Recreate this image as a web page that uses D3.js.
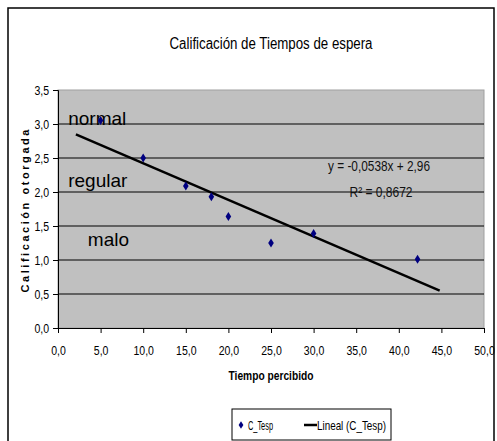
<!DOCTYPE html>
<html><head><meta charset="utf-8">
<script src="https://cdn.jsdelivr.net/npm/d3@7"></script>
<style>
body{margin:0;background:#fff;}
svg text{font-family:"Liberation Sans",Arial,sans-serif;}
</style></head><body>
<svg id="c" width="497" height="441"></svg>
<script>
const title = "Calificación de Tiempos de espera";
const xTitle = "Tiempo percibido";
const yTitle = "Calificación otorgada";
const xValues = [5, 10, 15, 18, 20, 25, 30, 42.2];
const yValues = [3.05, 2.5, 2.09, 1.93, 1.64, 1.25, 1.39, 1.01];
const xTicks = [0, 5, 10, 15, 20, 25, 30, 35, 40, 45, 50];
const yTicks = [0, 0.5, 1, 1.5, 2, 2.5, 3, 3.5];
const trendSlope = -0.0538, trendIntercept = 2.96;
const trendRange = [2.1, 44.8];
const zoneLabels = ["normal", "regular", "malo"];
const zoneLabelY = [2.98, 2.08, 1.2];
const zoneLabelX = [1.2, 1.2, 3.5];
const eqText = "y = -0,0538x + 2,96";
const r2Text = "R² = 0,8672";
const legendLabels = ["C_Tesp", "Lineal (C_Tesp)"];

const svg = d3.select("#c");
const fmt = v => d3.format(".1f")(v).replace(".", ",");
const SQ = 0.78; // horizontal squeeze for narrow-font look
function fitWidth(sel, width, adjust) {
  sel.attr("textLength", width).attr("lengthAdjust", adjust || "spacingAndGlyphs");
}

// outer border
svg.append("rect").attr("x", 8).attr("y", 8).attr("width", 486).attr("height", 440)
  .attr("fill", "#fff").attr("stroke", "#000").attr("stroke-width", 1.5);

const L = 58, R = 484, T = 90, B = 328;
const x = d3.scaleLinear().domain([0, 50]).range([L, R]);
const y = d3.scaleLinear().domain([0, 3.5]).range([B, T]);

svg.append("rect").attr("x", L).attr("y", T).attr("width", R - L).attr("height", B - T)
  .attr("fill", "#c0c0c0").attr("stroke", "#a0a0a0").attr("stroke-width", 1);

// gridlines
svg.append("g").selectAll("line").data(yTicks.filter(d => d > 0 && d < 3.5)).join("line")
  .attr("x1", L).attr("x2", R).attr("y1", d => y(d)).attr("y2", d => y(d))
  .attr("stroke", "#000").attr("stroke-width", 1.2);

// axes
const xa = svg.append("g").attr("transform", `translate(0,${B})`)
  .call(d3.axisBottom(x).tickValues(xTicks).tickFormat(fmt).tickSize(5).tickPadding(12));
const ya = svg.append("g").attr("transform", `translate(${L},0)`)
  .call(d3.axisLeft(y).tickValues(yTicks).tickFormat(fmt).tickSize(5).tickPadding(4));
[xa, ya].forEach(a => {
  a.select(".domain").attr("stroke", "#000");
  a.selectAll(".tick line").attr("stroke", "#000");
  a.selectAll("text").attr("font-size", 13.5).attr("fill", "#000");
});
xa.selectAll(".tick text").attr("transform", `scale(${SQ},1)`);
ya.selectAll(".tick text").attr("x", -9 / SQ).attr("transform", `scale(${SQ},1)`);

// zone labels
svg.append("g").selectAll("text").data(zoneLabels).join("text")
  .attr("x", (d, i) => x(zoneLabelX[i])).attr("y", (d, i) => y(zoneLabelY[i]))
  .attr("font-size", 19).attr("fill", "#000").text(d => d);

// trend line
svg.append("line")
  .attr("x1", x(trendRange[0])).attr("y1", y(trendSlope * trendRange[0] + trendIntercept))
  .attr("x2", x(trendRange[1])).attr("y2", y(trendSlope * trendRange[1] + trendIntercept))
  .attr("stroke", "#000").attr("stroke-width", 2.5);

// points
const diamond = "M0,-4.5L2.8,0L0,4.5L-2.8,0Z";
svg.append("g").selectAll("path").data(xValues).join("path")
  .attr("d", diamond)
  .attr("transform", (d, i) => `translate(${x(d)},${y(yValues[i])})`)
  .attr("fill", "#000080");

// equation
const eq = svg.append("g").attr("fill", "#111").attr("font-size", 15).attr("text-anchor", "middle");
eq.append("text").attr("x", 379).attr("y", 171).text(eqText).call(fitWidth, 102);
eq.append("text").attr("x", 381).attr("y", 197).text(r2Text).call(fitWidth, 63);

// titles
svg.append("text").attr("x", 271).attr("y", 49).attr("text-anchor", "middle")
  .attr("font-size", 16).attr("fill", "#000").text(title).call(fitWidth, 203);
svg.append("text").attr("x", 271).attr("y", 380).attr("text-anchor", "middle")
  .attr("font-size", 13).attr("font-weight", "bold").attr("fill", "#000").text(xTitle).call(fitWidth, 85);
svg.append("text").attr("transform", "translate(29,211) rotate(-90)").attr("text-anchor", "middle")
  .attr("font-size", 11).attr("font-weight", "bold").attr("fill", "#000").text(yTitle)
  .call(fitWidth, 163, "spacing");

// legend
const lg = svg.append("g");
lg.append("rect").attr("x", 232).attr("y", 409).attr("width", 159).attr("height", 31)
  .attr("fill", "#fff").attr("stroke", "#000").attr("stroke-width", 1);
lg.append("path").attr("d", diamond).attr("transform", "translate(241,425) scale(0.85)").attr("fill", "#000080");
lg.append("text").attr("x", 248).attr("y", 430).attr("font-size", 13).attr("fill", "#000").text(legendLabels[0]).call(fitWidth, 25);
lg.append("line").attr("x1", 304).attr("x2", 317).attr("y1", 425).attr("y2", 425).attr("stroke", "#000").attr("stroke-width", 2.5);
lg.append("text").attr("x", 317).attr("y", 430).attr("font-size", 13).attr("fill", "#000").text(legendLabels[1]).call(fitWidth, 69);
</script></body></html>
